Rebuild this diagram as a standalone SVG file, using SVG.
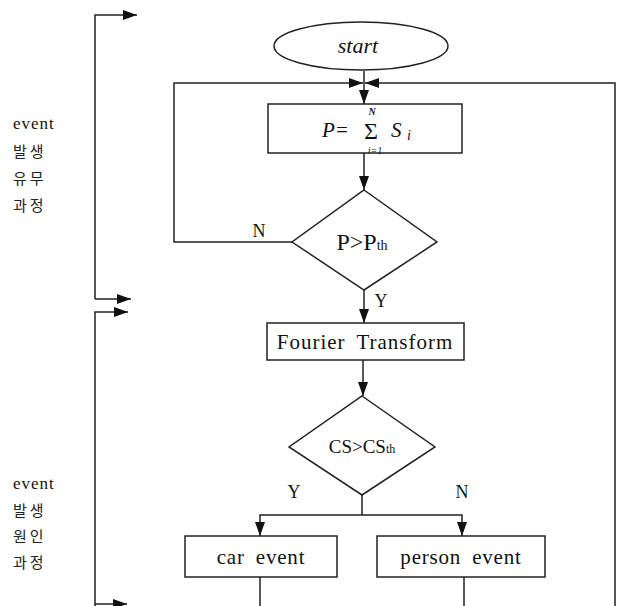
<svg xmlns="http://www.w3.org/2000/svg" width="620" height="606" viewBox="0 0 620 606">
<defs>
<marker id="ah" viewBox="0 0 14 10" refX="14" refY="5" markerWidth="14" markerHeight="10" markerUnits="userSpaceOnUse" orient="auto">
<path d="M0,0 L14,5 L0,10 z" fill="#111"/>
</marker>
</defs>
<style>
.ln{fill:none;stroke:#222;stroke-width:1.5}
.arr{fill:none;stroke:#222;stroke-width:1.5;marker-end:url(#ah)}
.shp{fill:#fff;stroke:#222;stroke-width:1.5}
.t{font-family:"Liberation Serif","Times New Roman",serif;fill:#111}
.k{font-family:"Noto Sans CJK KR",sans-serif;fill:#222;font-size:15px;letter-spacing:3px}
.e{font-family:"Liberation Serif","Times New Roman",serif;fill:#111;font-size:17px;letter-spacing:1px}
</style>
<rect width="620" height="606" fill="#fff"/>
<g id="connectors">
<path class="arr" d="M95,299 V15 H137"/>
<path class="arr" d="M95,299 H131"/>
<path class="arr" d="M95,606 V312 H128"/>
<path class="arr" d="M95,604 H127"/>
<path class="arr" d="M364,71 V104"/>
<path class="arr" d="M292,242 H174 V83 H363"/>
<path class="arr" d="M615,606 V83 H365"/>
<path class="arr" d="M364,153 V190"/>
<path class="arr" d="M364,290 V323"/>
<path class="arr" d="M363,360 V396"/>
<path class="ln" d="M362,495 V515"/>
<path class="arr" d="M362,515 H260 V536"/>
<path class="arr" d="M362,515 H462 V536"/>
<path class="ln" d="M260,577 V606"/>
<path class="ln" d="M464,577 V606"/>
<text class="t" x="259" y="237" font-size="18" text-anchor="middle">N</text>
<text class="t" x="381" y="307" font-size="18" text-anchor="middle">Y</text>
<text class="t" x="294" y="498" font-size="18" text-anchor="middle">Y</text>
<text class="t" x="462" y="498" font-size="18" text-anchor="middle">N</text>
</g>
<g id="label1">
<text class="e" x="13" y="129">event</text>
<text class="k" x="13" y="157">발생</text>
<text class="k" x="13" y="184">유무</text>
<text class="k" x="13" y="211">과정</text>
</g>
<g id="label2">
<text class="e" x="13" y="489">event</text>
<text class="k" x="13" y="516">발생</text>
<text class="k" x="13" y="542">원인</text>
<text class="k" x="13" y="568">과정</text>
</g>
<g id="start">
<ellipse class="shp" cx="361" cy="46" rx="87" ry="24"/>
<text class="t" x="358" y="53" font-size="22" font-style="italic" text-anchor="middle">start</text>
</g>
<g id="sum">
<rect class="shp" x="268" y="104" width="194" height="49"/>
<text class="t" x="322" y="137" font-size="21" font-style="italic">P=</text>
<text class="t" x="371" y="139" font-size="24" text-anchor="middle">Σ</text>
<text class="t" x="372" y="115" font-size="10" font-style="italic" font-weight="bold" text-anchor="middle">N</text>
<text class="t" x="375" y="154" font-size="10" font-style="italic" text-anchor="middle">i=1</text>
<text class="t" x="391" y="137" font-size="21" font-style="italic">S</text>
<text class="t" x="407" y="140" font-size="14" font-style="italic">i</text>
</g>
<g id="dec1">
<polygon class="shp" points="364,190 437,242 364,290 292,242"/>
<text class="t" x="362" y="250" font-size="24" text-anchor="middle">P&gt;P<tspan font-size="14">th</tspan></text>
</g>
<g id="fourier">
<rect class="shp" x="267" y="323" width="197" height="37"/>
<text class="t" x="365" y="349" font-size="21" text-anchor="middle" letter-spacing="1" word-spacing="5">Fourier Transform</text>
</g>
<g id="dec2">
<polygon class="shp" points="362,396 435,447 362,495 289,447"/>
<text class="t" x="362" y="453" font-size="19" text-anchor="middle">CS&gt;CS<tspan font-size="12">th</tspan></text>
</g>
<g id="car">
<rect class="shp" x="185" y="536" width="152" height="41"/>
<text class="t" x="261" y="564" font-size="21" text-anchor="middle" letter-spacing="0.8" word-spacing="5">car event</text>
</g>
<g id="person">
<rect class="shp" x="377" y="536" width="168" height="41"/>
<text class="t" x="461" y="564" font-size="21" text-anchor="middle" letter-spacing="0.8" word-spacing="5">person event</text>
</g>
</svg>
